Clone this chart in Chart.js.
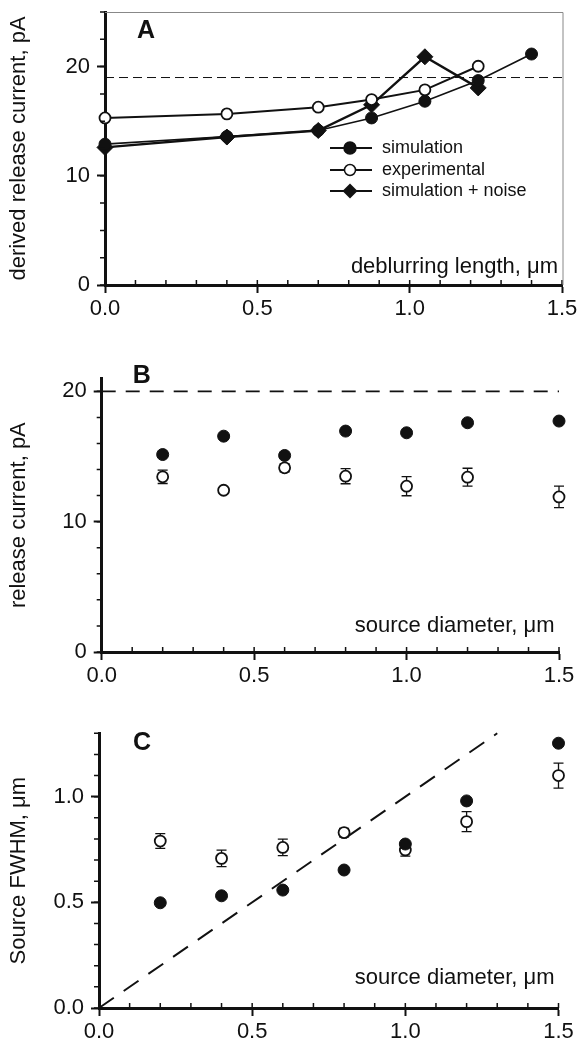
<!DOCTYPE html>
<html>
<head>
<meta charset="utf-8">
<script src="https://cdn.jsdelivr.net/npm/chart.js@4.4.1/dist/chart.umd.min.js"></script>
<style>
  html, body { margin: 0; padding: 0; background: #fff; }
  #wrap { position: relative; width: 579px; height: 1042px; overflow: hidden; background: #fff; }
  canvas { position: absolute; left: 0; }
</style>
</head>
<body>
<div id="wrap">
  <canvas id="chartA" width="579" height="330" style="top:0"></canvas>
  <canvas id="chartB" width="579" height="360" style="top:330px"></canvas>
  <canvas id="chartC" width="579" height="352" style="top:690px"></canvas>
</div>
<script>
// ---- data ----
// A: derived release current vs deblurring length
const deblurLength = [0, 0.4, 0.7, 0.875, 1.05, 1.225, 1.4];
const simA   = [12.9, 13.6, 14.15, 15.3, 16.83, 18.72, 21.15];
const expA   = [15.3, 15.67, 16.28, 16.98, 17.87, 20.03];
const noiseA = [12.6, 13.55, 14.15, 16.5, 20.9, 18.05];
const refXA = [0, 1.5];
const refYA = [19, 19];

// B: release current vs source diameter
const diameter = [0.2, 0.4, 0.6, 0.8, 1.0, 1.2, 1.5];
const simB    = [15.15, 16.56, 15.08, 16.95, 16.82, 17.59, 17.72];
const expB    = [13.44, 12.41, 14.13, 13.49, 12.72, 13.41, 11.9];
const expBErr = [0.51, 0.2, 0.3, 0.58, 0.73, 0.69, 0.83];
const refXB = [0, 1.5];
const refYB = [20, 20];

// C: source FWHM vs source diameter
const simC    = [0.498, 0.531, 0.558, 0.653, 0.776, 0.98, 1.253];
const expC    = [0.79, 0.708, 0.76, 0.83, 0.748, 0.882, 1.10];
const expCErr = [0.035, 0.039, 0.039, 0.02, 0.029, 0.047, 0.059];
const refXC = [0, 1.3];
const refYC = [0, 1.3];

// tick labels
const xTicks  = [0, 0.5, 1.0, 1.5];
const yTicksA = [0, 10, 20];
const yTicksB = [0, 10, 20];
const yTicksC = [0, 0.5, 1.0];

const FONT = "'Liberation Sans', Arial, Helvetica, sans-serif";
const W = 579;

const pts = (xs, ys) => ys.map((y, i) => ({x: xs[i], y: y}));

// error bars, drawn under the markers
const errorBars = {
    id: 'errorBars',
    beforeDatasetsDraw(chart) {
        const {ctx, scales: {x, y}} = chart;
        ctx.save();
        ctx.strokeStyle = '#111';
        ctx.lineWidth = 1.3;
        chart.data.datasets.forEach(ds => {
            if (!ds.errors) return;
            ds.data.forEach((p, i) => {
                const px = x.getPixelForValue(p.x);
                const top = y.getPixelForValue(p.y + ds.errors[i]);
                const bot = y.getPixelForValue(p.y - ds.errors[i]);
                ctx.beginPath();
                ctx.moveTo(px, top); ctx.lineTo(px, bot);
                ctx.moveTo(px - 5, top); ctx.lineTo(px + 5, top);
                ctx.moveTo(px - 5, bot); ctx.lineTo(px + 5, bot);
                ctx.stroke();
            });
        });
        ctx.restore();
    }
};

// minor ticks, labels, frame and legend
const decorations = {
    id: 'decorations',
    afterDraw(chart, args, o) {
        const {ctx, chartArea: a, scales: {x, y}} = chart;
        ctx.save();
        ctx.strokeStyle = '#111';
        ctx.lineWidth = 1.5;
        ctx.beginPath();
        for (let v = x.min; v <= x.max + 1e-9; v += o.xMinor) {
            const px = x.getPixelForValue(v);
            ctx.moveTo(px, a.bottom); ctx.lineTo(px, a.bottom - 5);
        }
        for (let v = y.min; v <= y.max + 1e-9; v += o.yMinor) {
            const py = y.getPixelForValue(v);
            ctx.moveTo(a.left, py); ctx.lineTo(a.left - 5, py);
        }
        ctx.stroke();

        if (o.frame) {
            ctx.strokeStyle = '#888';
            ctx.lineWidth = 1;
            ctx.beginPath();
            ctx.moveTo(a.left, a.top + 0.5); ctx.lineTo(a.right + 1, a.top + 0.5);
            ctx.lineTo(a.right + 1, a.bottom);
            ctx.stroke();
        }

        ctx.fillStyle = '#111';
        ctx.textBaseline = 'alphabetic';
        ctx.textAlign = 'left';
        ctx.font = 'bold 25px ' + FONT;
        ctx.fillText(o.letter, a.left + o.letterDx, a.top + o.letterDy);

        ctx.textAlign = 'right';
        ctx.font = '22px ' + FONT;
        ctx.fillText(o.xlabel, a.right - o.xlabelDx, a.bottom - o.xlabelDy);

        if (o.legend) {
            ctx.font = '18px ' + FONT;
            ctx.textAlign = 'left';
            ctx.textBaseline = 'middle';
            o.legend.forEach((it, i) => {
                const ly = o.legendY[i];
                ctx.strokeStyle = '#111';
                ctx.lineWidth = 2;
                ctx.beginPath();
                ctx.moveTo(330, ly); ctx.lineTo(372, ly);
                ctx.stroke();
                ctx.beginPath();
                if (it.shape === 'diamond') {
                    ctx.moveTo(350, ly - 7.5); ctx.lineTo(357.5, ly); ctx.lineTo(350, ly + 7.5); ctx.lineTo(342.5, ly);
                    ctx.closePath();
                    ctx.fillStyle = '#111'; ctx.fill();
                } else {
                    ctx.arc(350, ly, it.open ? 5.5 : 6, 0, Math.PI * 2);
                    ctx.fillStyle = it.open ? '#fff' : '#111';
                    ctx.fill();
                    ctx.lineWidth = 1.5;
                    ctx.stroke();
                }
                ctx.fillStyle = '#111';
                ctx.fillText(it.label, 382, ly);
            });
        }
        ctx.restore();
    }
};

function makePanel(id, p) {
    const canvas = document.getElementById(id);
    const H = canvas.height;
    return new Chart(canvas.getContext('2d'), {
        type: 'scatter',
        data: {datasets: p.datasets},
        plugins: [errorBars, decorations],
        options: {
            responsive: false,
            animation: false,
            devicePixelRatio: 1,
            layout: {padding: {left: 0, top: p.area.top, right: W - p.area.right, bottom: 0}},
            plugins: {
                legend: {display: false},
                tooltip: {enabled: false},
                decorations: p.deco
            },
            scales: {
                x: {
                    type: 'linear',
                    min: 0, max: 1.5,
                    afterBuildTicks: s => { s.ticks = xTicks.map(v => ({value: v})); },
                    afterFit: s => {
                        s.height = H - p.area.bottom;
                        s.paddingLeft = 0; s.paddingRight = 0;
                    },
                    border: {display: true, color: '#111', width: 3},
                    grid: {drawOnChartArea: false, drawTicks: true, tickLength: 8, tickWidth: 2, tickColor: '#111'},
                    ticks: {
                        color: '#111', padding: 3, maxRotation: 0, autoSkip: false,
                        font: {family: FONT, size: 22},
                        callback: v => v.toFixed(1)
                    }
                },
                y: {
                    type: 'linear',
                    min: p.yMin, max: p.yMax,
                    afterBuildTicks: s => { s.ticks = p.yTicks.map(v => ({value: v})); },
                    afterFit: s => {
                        s.width = p.area.left;
                        s.paddingTop = 0; s.paddingBottom = 0;
                    },
                    border: {display: true, color: '#111', width: 3},
                    grid: {drawOnChartArea: false, drawTicks: true, tickLength: 8, tickWidth: 2, tickColor: '#111'},
                    ticks: {
                        color: '#111', padding: 7, autoSkip: false,
                        font: {family: FONT, size: 22},
                        callback: v => v.toFixed(p.yDecimals)
                    },
                    title: {
                        display: true, text: p.ytitle, color: '#111',
                        font: {family: FONT, size: 22},
                        padding: {top: 6, bottom: 0}
                    }
                }
            }
        }
    });
}

const filled = (data, r) => ({
    data, showLine: false, clip: false,
    pointStyle: 'circle', pointRadius: r, pointBackgroundColor: '#111', pointBorderColor: '#111', pointBorderWidth: 1
});
const open = (data, r, errors) => ({
    data, errors, showLine: false, clip: false,
    pointStyle: 'circle', pointRadius: r, pointBackgroundColor: '#fff', pointBorderColor: '#111', pointBorderWidth: 1.8
});
const dashed = (data, dash, w) => ({
    data, showLine: true, clip: false, pointRadius: 0,
    borderColor: '#111', borderWidth: w, borderDash: dash
});

makePanel('chartA', {
    area: {left: 105, right: 562, top: 12, bottom: 285},
    yMin: 0, yMax: 25, yTicks: yTicksA, yDecimals: 0,
    ytitle: 'derived release current, pA',
    datasets: [
        {...filled(pts(deblurLength, simA), 6), showLine: true, borderColor: '#111', borderWidth: 1.6},
        {...open(pts(deblurLength, expA), 5.5), showLine: true, borderColor: '#111', borderWidth: 2},
        {data: pts(deblurLength, noiseA), showLine: true, clip: false, borderColor: '#111', borderWidth: 2.4,
         pointStyle: 'rectRot', pointRadius: 8, pointBackgroundColor: '#111', pointBorderColor: '#111', pointBorderWidth: 1},
        dashed(pts(refXA, refYA), [9, 5], 1)
    ],
    deco: {
        xMinor: 0.1, yMinor: 2.5, frame: true,
        letter: 'A', letterDx: 32, letterDy: 26,
        xlabel: 'deblurring length, \u03bcm', xlabelDx: 4, xlabelDy: 12,
        legend: [
            {label: 'simulation'},
            {label: 'experimental', open: true},
            {label: 'simulation + noise', shape: 'diamond'}
        ],
        legendY: [148, 170, 191]
    }
});

makePanel('chartB', {
    area: {left: 101.7, right: 559, top: 48.3, bottom: 322},
    yMin: 0, yMax: 21, yTicks: yTicksB, yDecimals: 0,
    ytitle: 'release current, pA',
    datasets: [
        filled(pts(diameter, simB), 6),
        open(pts(diameter, expB), 5.5, expBErr),
        dashed(pts(refXB, refYB), [14, 10], 1.6)
    ],
    deco: {
        xMinor: 0.1, yMinor: 2, frame: false,
        letter: 'B', letterDx: 31, letterDy: 5,
        xlabel: 'source diameter, \u03bcm', xlabelDx: 4.5, xlabelDy: 20
    }
});

makePanel('chartC', {
    area: {left: 99, right: 558.5, top: 43.3, bottom: 318},
    yMin: 0, yMax: 1.3, yTicks: yTicksC, yDecimals: 1,
    ytitle: 'Source FWHM, \u03bcm',
    datasets: [
        filled(pts(diameter, simC), 6),
        open(pts(diameter, expC), 5.5, expCErr),
        dashed(pts(refXC, refYC), [18, 12], 2)
    ],
    deco: {
        xMinor: 0.1, yMinor: 0.1, frame: false,
        letter: 'C', letterDx: 34, letterDy: 17,
        xlabel: 'source diameter, \u03bcm', xlabelDx: 4, xlabelDy: 24
    }
});
</script>
</body>
</html>
